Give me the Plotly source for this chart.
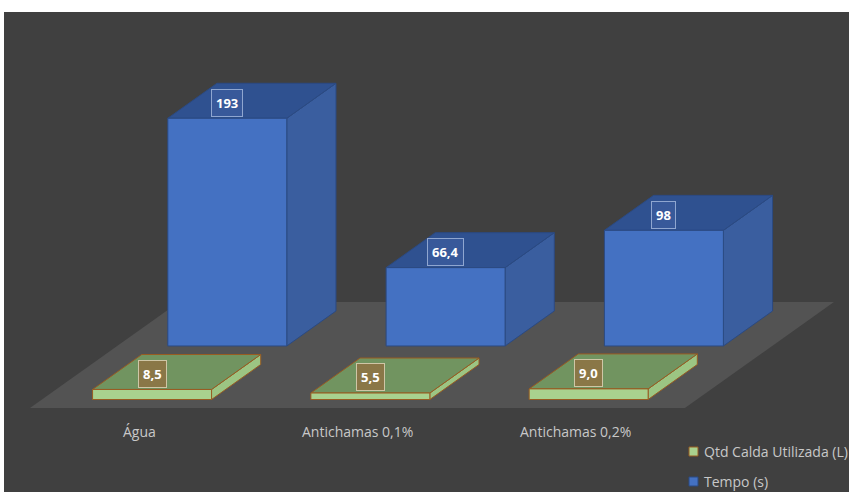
import plotly.graph_objects as go

# ---- data ----
categories = ["Água", "Antichamas 0,1%", "Antichamas 0,2%"]
qtd_calda = [8.5, 5.5, 9.0]
qtd_text = ["8,5", "5,5", "9,0"]
tempo = [193, 66.4, 98]
tempo_text = ["193", "66,4", "98"]
series_names = ["Qtd Calda Utilizada (L)", "Tempo (s)"]

# ---- oblique 3D projection settings ----
KX = 0.6826      # x shift (category units) per unit of depth
KZ = 89.83       # y shift (value units) per unit of depth
BAR_LEFT = 0.232
BAR_W = 0.545
ROWS = [(0.08, 0.41), (0.585, 0.915)]   # depth extents of the two series rows

W, H = 849, 492
ML, MT = 4, 12

BG = "#404040"
FLOOR = "#535353"
TXT = "#c8c8c8"
FONT = "Open Sans"

styles = [
    dict(front="#a9d18e", top="#719460", side="#9cc583", edge="#985c22",
         lab_bg="#8a7747", lab_border="#cfc6a6"),
    dict(front="#4471c2", top="#2f5190", side="#3a5e9f", edge="#2b4a82",
         lab_bg="#38599a", lab_border="#8fa6d0"),
]


def P(u, z, v):
    return u + z * KX, v + z * KZ


def poly(pts):
    xs, ys = [], []
    for u, z, v in pts + [pts[0]]:
        x, y = P(u, z, v)
        xs.append(x)
        ys.append(y)
    return xs, ys


def px2paper(px, py):
    return (px - ML) / (W - ML), (H - py) / (H - MT)


fig = go.Figure()

# floor
n = len(categories)
fx, fy = poly([(0, 0, 0), (n, 0, 0), (n, 1, 0), (0, 1, 0)])
fig.add_trace(go.Scatter(x=fx, y=fy, fill="toself", fillcolor=FLOOR, mode="lines",
                         line=dict(width=0), hoverinfo="skip", showlegend=False))

annotations = []
# draw back row (Tempo) first, then front row (Qtd)
for si in [1, 0]:
    vals = [qtd_calda, tempo][si]
    texts = [qtd_text, tempo_text][si]
    st = styles[si]
    z0, z1 = ROWS[si]
    for i, h in enumerate(vals):
        uL = i + BAR_LEFT
        uR = uL + BAR_W
        faces = [
            ([(uR, z0, 0), (uR, z1, 0), (uR, z1, h), (uR, z0, h)], st["side"]),
            ([(uL, z0, h), (uR, z0, h), (uR, z1, h), (uL, z1, h)], st["top"]),
            ([(uL, z0, 0), (uR, z0, 0), (uR, z0, h), (uL, z0, h)], st["front"]),
        ]
        for pts, col in faces:
            xs, ys = poly(pts)
            fig.add_trace(go.Scatter(x=xs, y=ys, fill="toself", fillcolor=col,
                                     mode="lines", line=dict(color=st["edge"], width=1),
                                     hoverinfo="skip", showlegend=False,
                                     name=series_names[si]))
        lx, _ = P(uL + BAR_W / 2, z0, h)
        _, ly = P(uL + BAR_W / 2, z0 + 0.45 * (z1 - z0), h)
        annotations.append(dict(x=lx, y=ly, text="<b>%s</b>" % texts[i], showarrow=False,
                                font=dict(family=FONT, size=13, color="#ffffff"),
                                bgcolor=st["lab_bg"], bordercolor=st["lab_border"],
                                borderwidth=1, borderpad=4))

# category labels along the floor front edge
for i, c in enumerate(categories):
    annotations.append(dict(x=i + 0.5, y=-20.3, text=c, showarrow=False,
                            font=dict(family=FONT, size=14, color=TXT)))

# legend (manual)
shapes = []
legend_pos = [(689, 447), (689, 477)]
for si, name in enumerate(series_names):
    st = styles[si]
    x0, y0 = px2paper(legend_pos[si][0], legend_pos[si][1] + 9)
    x1, y1 = px2paper(legend_pos[si][0] + 9, legend_pos[si][1])
    shapes.append(dict(type="rect", xref="paper", yref="paper", x0=x0, y0=y0, x1=x1, y1=y1,
                       fillcolor=st["front"], line=dict(color=st["edge"], width=1)))
    tx, ty = px2paper(legend_pos[si][0] + 13, legend_pos[si][1] + 4.5)
    annotations.append(dict(x=tx, y=ty, xref="paper", yref="paper", text=name,
                            xanchor="left", yanchor="middle", showarrow=False,
                            font=dict(family=FONT, size=14, color=TXT)))

fig.update_layout(
    width=W, height=H,
    margin=dict(l=ML, r=0, t=MT, b=0),
    paper_bgcolor="#ffffff",
    plot_bgcolor=BG,
    xaxis=dict(range=[-0.1191, 3.7517], visible=False, fixedrange=True),
    yaxis=dict(range=[-71.2, 335.6], visible=False, fixedrange=True),
    annotations=annotations,
    shapes=shapes,
    showlegend=False,
)

fig.write_html("out.html", config={"displayModeBar": False},
               post_script="document.body.style.margin='0px';")
